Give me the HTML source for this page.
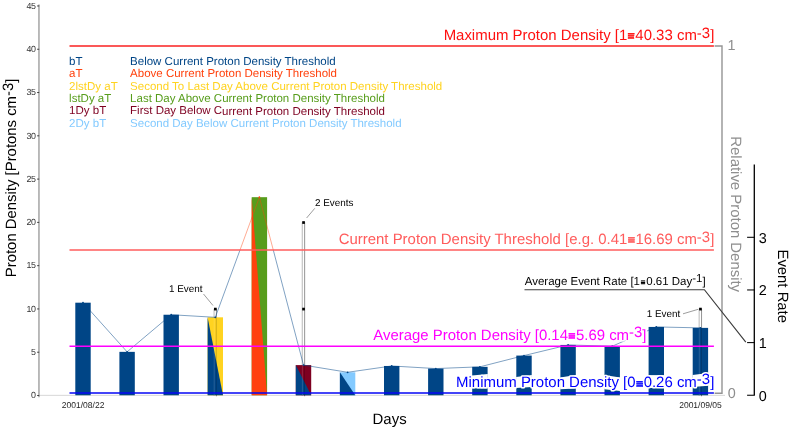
<!DOCTYPE html><html><head><meta charset="utf-8"><title>Proton Density</title>
<style>html,body{margin:0;padding:0;background:#fff}svg{display:block}text{font-family:"Liberation Sans",sans-serif;text-rendering:geometricPrecision}</style></head><body>
<svg width="792" height="428" viewBox="0 0 792 428">
<rect width="792" height="428" fill="#fff"/>
<line x1="38.5" y1="395.35" x2="725" y2="395.35" stroke="#c4c4c4" stroke-width="0.7"/>
<line x1="38.95" y1="4.5" x2="38.95" y2="397.3" stroke="#a4a4a4" stroke-width="1.5"/>
<line x1="37.1" y1="395.50" x2="39.2" y2="395.50" stroke="#333" stroke-width="0.9"/>
<text x="35.6" y="398.20" transform="rotate(0.02 35 398.20)" font-size="8.9" letter-spacing="-0.35" text-anchor="end" fill="#333">0</text>
<line x1="37.1" y1="352.22" x2="39.2" y2="352.22" stroke="#333" stroke-width="0.9"/>
<text x="35.6" y="354.92" transform="rotate(0.02 35 354.92)" font-size="8.9" letter-spacing="-0.35" text-anchor="end" fill="#333">5</text>
<line x1="37.1" y1="308.94" x2="39.2" y2="308.94" stroke="#333" stroke-width="0.9"/>
<text x="35.6" y="311.64" transform="rotate(0.02 35 311.64)" font-size="8.9" letter-spacing="-0.35" text-anchor="end" fill="#333">10</text>
<line x1="37.1" y1="265.66" x2="39.2" y2="265.66" stroke="#333" stroke-width="0.9"/>
<text x="35.6" y="268.36" transform="rotate(0.02 35 268.36)" font-size="8.9" letter-spacing="-0.35" text-anchor="end" fill="#333">15</text>
<line x1="37.1" y1="222.38" x2="39.2" y2="222.38" stroke="#333" stroke-width="0.9"/>
<text x="35.6" y="225.08" transform="rotate(0.02 35 225.08)" font-size="8.9" letter-spacing="-0.35" text-anchor="end" fill="#333">20</text>
<line x1="37.1" y1="179.10" x2="39.2" y2="179.10" stroke="#333" stroke-width="0.9"/>
<text x="35.6" y="181.80" transform="rotate(0.02 35 181.80)" font-size="8.9" letter-spacing="-0.35" text-anchor="end" fill="#333">25</text>
<line x1="37.1" y1="135.82" x2="39.2" y2="135.82" stroke="#333" stroke-width="0.9"/>
<text x="35.6" y="138.52" transform="rotate(0.02 35 138.52)" font-size="8.9" letter-spacing="-0.35" text-anchor="end" fill="#333">30</text>
<line x1="37.1" y1="92.54" x2="39.2" y2="92.54" stroke="#333" stroke-width="0.9"/>
<text x="35.6" y="95.24" transform="rotate(0.02 35 95.24)" font-size="8.9" letter-spacing="-0.35" text-anchor="end" fill="#333">35</text>
<line x1="37.1" y1="49.26" x2="39.2" y2="49.26" stroke="#333" stroke-width="0.9"/>
<text x="35.6" y="51.96" transform="rotate(0.02 35 51.96)" font-size="8.9" letter-spacing="-0.35" text-anchor="end" fill="#333">40</text>
<line x1="37.1" y1="5.98" x2="39.2" y2="5.98" stroke="#333" stroke-width="0.9"/>
<text x="35.6" y="8.68" transform="rotate(0.02 35 8.68)" font-size="8.9" letter-spacing="-0.35" text-anchor="end" fill="#333">45</text>
<rect x="214.00" y="308.84" width="2.6" height="86.16" fill="#fff"/><line x1="214.05" y1="308.84" x2="214.05" y2="396.0" stroke="#8a8a8a" stroke-width="0.6"/><line x1="216.45" y1="308.84" x2="216.45" y2="396.2" stroke="#4a4a4a" stroke-width="0.6"/>
<rect x="302.20" y="222.28" width="2.6" height="172.72" fill="#fff"/><line x1="302.25" y1="222.28" x2="302.25" y2="396.0" stroke="#8a8a8a" stroke-width="0.6"/><line x1="304.65" y1="222.28" x2="304.65" y2="396.2" stroke="#4a4a4a" stroke-width="0.6"/>
<rect x="699.10" y="308.84" width="2.6" height="86.16" fill="#fff"/><line x1="699.15" y1="308.84" x2="699.15" y2="396.0" stroke="#8a8a8a" stroke-width="0.6"/><line x1="701.55" y1="308.84" x2="701.55" y2="396.2" stroke="#4a4a4a" stroke-width="0.6"/>
<rect x="75.30" y="302.69" width="15.4" height="92.56" fill="#004586"/>
<rect x="119.40" y="351.86" width="15.4" height="43.39" fill="#004586"/>
<rect x="163.50" y="314.73" width="15.4" height="80.52" fill="#004586"/>
<rect x="207.60" y="317.32" width="15.4" height="77.93" fill="#ffd320"/>
<path d="M207.60 317.32L207.60 395.25L223.00 395.25Z" fill="#004586"/>
<rect x="251.70" y="197.18" width="15.4" height="198.07" fill="#579d1c"/>
<path d="M251.70 197.18L251.70 395.25L267.10 395.25Z" fill="#ff420e"/>
<rect x="295.80" y="365.10" width="15.4" height="30.15" fill="#7e0021"/>
<path d="M295.80 365.10L295.80 395.25L311.20 395.25Z" fill="#004586"/>
<rect x="339.90" y="372.29" width="15.4" height="22.96" fill="#83caff"/>
<path d="M339.90 372.29L339.90 395.25L355.30 395.25Z" fill="#004586"/>
<rect x="384.00" y="365.97" width="15.4" height="29.28" fill="#004586"/>
<rect x="428.10" y="368.57" width="15.4" height="26.68" fill="#004586"/>
<rect x="472.20" y="366.84" width="15.4" height="28.41" fill="#004586"/>
<rect x="516.30" y="355.58" width="15.4" height="39.67" fill="#004586"/>
<rect x="560.40" y="344.94" width="15.4" height="50.31" fill="#004586"/>
<rect x="604.50" y="346.23" width="15.4" height="49.02" fill="#004586"/>
<rect x="648.60" y="326.93" width="15.4" height="68.32" fill="#004586"/>
<rect x="692.70" y="327.88" width="15.4" height="67.37" fill="#004586"/>
<line x1="216.30" y1="317.32" x2="216.30" y2="396.2" stroke="#000" stroke-opacity="0.3" stroke-width="0.6"/><line x1="214.20" y1="317.32" x2="214.20" y2="395.4" stroke="#fff" stroke-opacity="0.25" stroke-width="0.6"/><rect x="214.00" y="307.74" width="2.7" height="2.7" fill="#000"/>
<line x1="304.50" y1="365.10" x2="304.50" y2="396.2" stroke="#000" stroke-opacity="0.3" stroke-width="0.6"/><line x1="302.40" y1="365.10" x2="302.40" y2="395.4" stroke="#fff" stroke-opacity="0.25" stroke-width="0.6"/><rect x="302.20" y="307.74" width="2.7" height="2.7" fill="#000"/><rect x="302.20" y="221.18" width="2.7" height="2.7" fill="#000"/>
<line x1="701.40" y1="327.88" x2="701.40" y2="396.2" stroke="#000" stroke-opacity="0.3" stroke-width="0.6"/><line x1="699.30" y1="327.88" x2="699.30" y2="395.4" stroke="#fff" stroke-opacity="0.25" stroke-width="0.6"/><rect x="699.10" y="307.74" width="2.7" height="2.7" fill="#000"/>
<defs><clipPath id="lo"><rect x="0" y="250.0" width="792" height="200"/></clipPath><clipPath id="hi"><rect x="0" y="0" width="792" height="250.0"/></clipPath></defs>
<polyline points="83.00,302.69 127.10,351.86 171.20,314.73 215.30,317.32 259.40,197.18 303.50,365.10 347.60,372.29 391.70,365.97 435.80,368.57 479.90,366.84 524.00,355.58 568.10,344.94 612.20,346.23 656.30,326.93 700.40,327.88" fill="none" stroke="#004586" stroke-width="0.5" clip-path="url(#lo)"/>
<polyline points="83.00,302.69 127.10,351.86 171.20,314.73 215.30,317.32 259.40,197.18 303.50,365.10 347.60,372.29 391.70,365.97 435.80,368.57 479.90,366.84 524.00,355.58 568.10,344.94 612.20,346.23 656.30,326.93 700.40,327.88" fill="none" stroke="#ff420e" stroke-width="0.45" clip-path="url(#hi)"/>
<circle cx="83.00" cy="302.69" r="0.9" fill="#004586"/>
<circle cx="127.10" cy="351.86" r="0.9" fill="#004586"/>
<circle cx="171.20" cy="314.73" r="0.9" fill="#004586"/>
<circle cx="215.30" cy="317.32" r="0.9" fill="#004586"/>
<circle cx="259.40" cy="197.18" r="0.9" fill="#ff420e"/>
<circle cx="303.50" cy="365.10" r="0.9" fill="#004586"/>
<circle cx="347.60" cy="372.29" r="0.9" fill="#004586"/>
<circle cx="391.70" cy="365.97" r="0.9" fill="#004586"/>
<circle cx="435.80" cy="368.57" r="0.9" fill="#004586"/>
<circle cx="479.90" cy="366.84" r="0.9" fill="#004586"/>
<circle cx="524.00" cy="355.58" r="0.9" fill="#004586"/>
<circle cx="568.10" cy="344.94" r="0.9" fill="#004586"/>
<circle cx="612.20" cy="346.23" r="0.9" fill="#004586"/>
<circle cx="656.30" cy="326.93" r="0.9" fill="#004586"/>
<circle cx="700.40" cy="327.88" r="0.9" fill="#004586"/>
<line x1="69.5" y1="46.1" x2="713.9" y2="46.1" stroke="#fa2020" stroke-width="1.5"/>
<line x1="69.5" y1="250.0" x2="713.9" y2="250.0" stroke="#ff5c5c" stroke-width="1.5"/>
<line x1="69.5" y1="346.15" x2="713.9" y2="346.15" stroke="#ff00ff" stroke-width="1.5"/>
<line x1="69.5" y1="393.0" x2="713.9" y2="393.0" stroke="#0606f4" stroke-width="1.3"/>
<path d="M714.6 46H722V393.2H714.6" fill="none" stroke="#949494" stroke-width="1.4"/>
<text x="727.6" y="50.45" transform="rotate(0.02 727 50)" font-size="14.4" fill="#8e8e8e">1</text>
<text x="727.7" y="398.3" transform="rotate(0.02 727 398)" font-size="14.4" fill="#8e8e8e">0</text>
<path d="M754.3 164.5V395" fill="none" stroke="#000" stroke-width="1.3"/>
<line x1="747.1" y1="395.25" x2="754.9" y2="395.25" stroke="#000" stroke-width="1.05"/>
<text x="758.7" y="400.50" transform="rotate(0.02 758 400.50)" font-size="14.4" fill="#000">0</text>
<line x1="747.1" y1="342.60" x2="754.9" y2="342.60" stroke="#000" stroke-width="1.05"/>
<text x="758.7" y="347.85" transform="rotate(0.02 758 347.85)" font-size="14.4" fill="#000">1</text>
<line x1="747.1" y1="289.95" x2="754.9" y2="289.95" stroke="#000" stroke-width="1.05"/>
<text x="758.7" y="295.20" transform="rotate(0.02 758 295.20)" font-size="14.4" fill="#000">2</text>
<line x1="747.1" y1="237.30" x2="754.9" y2="237.30" stroke="#000" stroke-width="1.05"/>
<text x="758.7" y="242.55" transform="rotate(0.02 758 242.55)" font-size="14.4" fill="#000">3</text>
<path d="M472.00 375.6L487.80 373.9L487.80 388.4L472.00 388.3Z" fill="#fff"/>
<path d="M516.10 377.1L531.90 375.1L531.90 387.0L516.10 388.0Z" fill="#fff"/>
<path d="M560.20 377.6L576.00 375.1L576.00 388.4L560.20 389.2Z" fill="#fff"/>
<path d="M604.30 375.1L620.10 377.6L620.10 391.0L604.30 389.2Z" fill="#fff"/>
<path d="M648.40 375.1L664.20 375.1L664.20 388.0L648.40 388.0Z" fill="#fff"/>
<path d="M692.50 374.9L708.30 372.9L708.30 385.7L692.50 387.0Z" fill="#fff"/>
<rect x="627" y="325.5" width="19.3" height="18.6" fill="#fff"/>
<text id="lmax" x="714.3" y="40.2" transform="rotate(0.02 714.3 40.2)" font-size="14.96" fill="#ff1010" text-anchor="end" stroke="#fff" stroke-width="3" stroke-linejoin="round" paint-order="stroke">Maximum Proton Density [1<tspan font-size="12.57" dx="0.35" dy="0.3" stroke="#ff1010" stroke-width="0.60">≡</tspan><tspan dx="0.35" dy="-0.3">40.33 cm</tspan><tspan dy="-2.3">-3</tspan><tspan dy="2.3">]</tspan></text>
<text id="lthr" x="714.3" y="244.2" transform="rotate(0.02 714.3 244.2)" font-size="14.95" fill="#ff5c5c" text-anchor="end" stroke="#fff" stroke-width="3" stroke-linejoin="round" paint-order="stroke">Current Proton Density Threshold [e.g. 0.41<tspan font-size="12.56" dx="0.35" dy="0.3" stroke="#ff5c5c" stroke-width="0.60">≡</tspan><tspan dx="0.35" dy="-0.3">16.69 cm</tspan><tspan dy="-2.3">-3</tspan><tspan dy="2.3">]</tspan></text>
<text id="lavg" x="646.5" y="339.8" transform="rotate(0.02 646.5 339.8)" font-size="14.93" fill="#ff00ff" text-anchor="end" stroke="#fff" stroke-width="3" stroke-linejoin="round" paint-order="stroke">Average Proton Density [0.14<tspan font-size="12.54" dx="0.35" dy="0.3" stroke="#ff00ff" stroke-width="0.60">≡</tspan><tspan dx="0.35" dy="-0.3">5.69 cm</tspan><tspan dy="-2.3">-3</tspan><tspan dy="2.3">]</tspan></text>
<text id="lmin" x="714.3" y="387.3" transform="rotate(0.02 714.3 387.3)" font-size="14.96" fill="#0000ff" text-anchor="end" stroke="#fff" stroke-width="3" stroke-linejoin="round" paint-order="stroke">Minimum Proton Density [0<tspan font-size="12.57" dx="0.35" dy="0.3" stroke="#0000ff" stroke-width="0.60">≡</tspan><tspan dx="0.35" dy="-0.3">0.26 cm</tspan><tspan dy="-3.0">-3</tspan><tspan dy="3.0">]</tspan></text>
<path d="M524.5 289.7H704.4L745.8 342.1" fill="none" stroke="#3c3c3c" stroke-width="1.15"/>
<text id="lev" x="705.6" y="285.1" transform="rotate(0.02 705.6 285.1)" font-size="11.48" fill="#000" text-anchor="end">Average Event Rate [1<tspan font-size="7.81" dx="0.88" dy="0.3" stroke="#000" stroke-width="0.46">≡</tspan><tspan dx="0.88" dy="-0.3">0.61 Day</tspan><tspan dy="-2.7">-1</tspan><tspan dy="2.7">]</tspan></text>
<text id="e1" x="169.0" y="292.0" transform="rotate(0.02 168 291)" font-size="9.9" fill="#000">1 Event</text>
<line x1="203.5" y1="294" x2="213" y2="305.5" stroke="#3a3a3a" stroke-width="0.5"/>
<text id="e2" x="315" y="205.6" transform="rotate(0.02 315 206)" font-size="9.9" fill="#000">2 Events</text>
<line x1="314.8" y1="208.3" x2="306.6" y2="218" stroke="#3a3a3a" stroke-width="0.5"/>
<text id="e3" x="646.7" y="317.25" transform="rotate(0.02 646 318)" font-size="9.9" fill="#000">1 Event</text>
<line x1="683" y1="313.8" x2="698.2" y2="309.3" stroke="#3a3a3a" stroke-width="0.5"/>
<text x="69.1" y="64.75" transform="rotate(0.02 69 64.75)" font-size="11.5" fill="#004586">bT</text><text id="g0" x="130.1" y="64.75" transform="rotate(0.02 130 64.75)" font-size="11.5" fill="#004586">Below Current Proton Density Threshold</text>
<text x="69.1" y="77.18" transform="rotate(0.02 69 77.18)" font-size="11.5" fill="#ff420e">aT</text><text id="g1" x="130.1" y="77.18" transform="rotate(0.02 130 77.18)" font-size="11.5" fill="#ff420e">Above Current Proton Density Threshold</text>
<text x="69.1" y="89.61" transform="rotate(0.02 69 89.61)" font-size="11.5" fill="#ffd320">2lstDy aT</text><text id="g2" x="130.1" y="89.61" transform="rotate(0.02 130 89.61)" font-size="11.5" fill="#ffd320">Second To Last Day Above Current Proton Density Threshold</text>
<text x="69.1" y="102.04" transform="rotate(0.02 69 102.04)" font-size="11.5" fill="#579d1c">lstDy aT</text><text id="g3" x="130.1" y="102.04" transform="rotate(0.02 130 102.04)" font-size="11.5" fill="#579d1c">Last Day Above Current Proton Density Threshold</text>
<text x="69.1" y="114.47" transform="rotate(0.02 69 114.47)" font-size="11.5" fill="#7e0021">1Dy bT</text><text id="g4" x="130.1" y="114.47" transform="rotate(0.02 130 114.47)" font-size="11.5" fill="#7e0021">First Day Below Current Proton Density Threshold</text>
<text x="69.1" y="126.90" transform="rotate(0.02 69 126.90)" font-size="11.5" fill="#83caff">2Dy bT</text><text id="g5" x="130.1" y="126.90" transform="rotate(0.02 130 126.90)" font-size="11.5" fill="#83caff">Second Day Below Current Proton Density Threshold</text>
<text x="83.1" y="408" font-size="8.5" text-anchor="middle" fill="#222">2001/08/22</text>
<text x="700.45" y="408" font-size="8.5" text-anchor="middle" fill="#222">2001/09/05</text>
<text id="tx" x="389.6" y="423.6" font-size="14.95" text-anchor="middle" fill="#000">Days</text>
<text id="ty" transform="translate(16.1,177.9) rotate(-90)" font-size="14.9" text-anchor="middle" fill="#000">Proton Density [Protons cm<tspan dy="-2.8">-3</tspan><tspan dy="2.8">]</tspan></text>
<text id="tr" transform="translate(731.1,136.3) rotate(90)" font-size="14.92" fill="#8e8e8e">Relative Proton Density</text>
<text id="te" transform="translate(778.4,249.5) rotate(90)" font-size="14.87" fill="#000">Event Rate</text>
</svg></body></html>
